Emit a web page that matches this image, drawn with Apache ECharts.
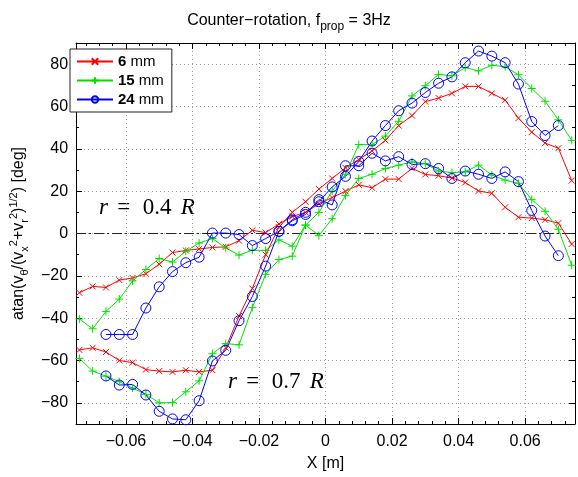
<!DOCTYPE html>
<html>
<head>
<meta charset="utf-8">
<script src="https://cdn.jsdelivr.net/npm/echarts@6/dist/echarts.min.js"></script>
<style>
  html, body { margin: 0; padding: 0; background: #fff; }
  #main { width: 578px; height: 477px; }
</style>
</head>
<body>
<div id="main"></div>
<script>
// x positions of the measurement stations [m]
var xPos = [-0.074, -0.070, -0.066, -0.062, -0.058, -0.054, -0.050, -0.046, -0.042, -0.038,
            -0.034, -0.030, -0.026, -0.022, -0.018, -0.014, -0.010, -0.006, -0.002, 0.002,
             0.006,  0.010,  0.014,  0.018,  0.022,  0.026,  0.030,  0.034,  0.038, 0.042,
             0.046,  0.050,  0.054,  0.058,  0.062,  0.066,  0.070,  0.074];

// r = 0.4 R
var red04 = [-28, -25, -25.5, -22, -21, -19, -14.5, -9, -8, -7.3,
             -6.6, -6.3, -3.4, 1.5, 0.4, 4.5, 8, 10, 14, 17,
             20, 23, 21.6, 25.7, 25.7, 30.8, 27.9, 27.3, 26.2, 24.1,
             20.1, 19, 12.4, 7.7, 7.3, 6.5, 4.9, -5];
var green04 = [-40.4, -45, -36.8, -31, -22.4, -17, -11.8, -13.5, -8.4, -4.5,
               -2.4, -6.8, -10.2, -7.9, -8, -3, -6, 4, -1, 7,
               18, 26, 28, 30.7, 32.3, 33.8, 33, 29.5, 28.8, 29.1,
               32.3, 27.6, 25.2, 23.7, 16, 10.5, 2, -15];
var blue04 = [null, null, -47.7, -47.7, -47.7, -35.2, -25.2, -18, -13.8, -11.2,
              0.2, 0.2, -0.5, -5.7, -2.4, 1, 6, 9, 16, 13.5,
              32, 32, 37.9, 34.3, 36.3, 32.6, 33, 30.7, 26, 29.5,
              28, 26, 29.1, 24.5, 10.9, -1.2, -10.5, null];

// r = 0.7 R
var red07 = [-55, -54, -56, -60, -61, -64.3, -65, -65.4, -64.6, -65.4,
             -64.6, -54, -39, -26, -10, 3, 10, 15, 21, 26,
             31, 35, 39, 44, 51, 55.7, 62.3, 64, 66.2, 69.5,
             69.5, 66.2, 63, 54.5, 47.9, 42.7, 40.3, 25];
var green07 = [-59, -65, -67.4, -70, -73, -76, -80, -79.9, -74.8, -69.6,
               -56.8, -52, -52.6, -35, -19.3, -12.3, -10.7, 4, 10, 20,
               28, 42, 42, 46, 53, 65, 69.8, 75.2, 74.5, 78.4,
               76.8, 79.5, 78.8, 75, 68.5, 62.5, 53.7, 44];
var blue07 = [null, null, -67.3, -71.6, -71.3, -76.3, -84, -87.6, -88, -79,
              -60.2, -55.2, -41.2, -29.8, -15.4, 1, 6.5, 10, 15, 22,
              27, 34, 43.7, 51, 58, 61.6, 66.6, 71, 74, 80.7,
              86.2, 83.8, 80.7, 70.6, 52.9, 46.3, 51, null];

var seriesNames = ['6 mm', '15 mm', '24 mm'];
var seriesColors = ['#ff0000', '#00e000', '#0000ff'];

function pairs(vals) {
  var out = [];
  for (var i = 0; i < xPos.length; i++) {
    if (vals[i] !== null) out.push([xPos[i], vals[i]]);
  }
  return out;
}

var crossSym = 'path://M0,0L10,10M10,0L0,10';
var plusSym = 'path://M5,0L5,10M0,5L10,5';

function mkSeries(name, color, vals, sym, size) {
  var isCircle = sym === 'circle';
  return {
    name: name,
    type: 'line',
    data: pairs(vals),
    symbol: sym,
    symbolSize: size,
    showAllSymbol: true,
    lineStyle: { color: color, width: 1 },
    itemStyle: {
      color: isCircle ? 'rgba(0,0,0,0)' : color,
      borderColor: color,
      borderWidth: 1
    },
    emphasis: { disabled: true },
    animation: false,
    z: 3
  };
}

var myChart = echarts.init(document.getElementById('main'), null, { renderer: 'canvas' });

var axisFont = { fontFamily: 'Liberation Sans, Arial, sans-serif', fontSize: 16, color: '#000' };

var series = [
  mkSeries(seriesNames[0], seriesColors[0], red04, crossSym, 6),
  mkSeries(seriesNames[1], seriesColors[1], green04, plusSym, 8),
  mkSeries(seriesNames[2], seriesColors[2], blue04, 'circle', 10),
  mkSeries(seriesNames[0], seriesColors[0], red07, crossSym, 6),
  mkSeries(seriesNames[1], seriesColors[1], green07, plusSym, 8),
  mkSeries(seriesNames[2], seriesColors[2], blue07, 'circle', 10)
];

// dash-dot zero line
series[0].markLine = {
  silent: true,
  symbol: 'none',
  label: { show: false },
  lineStyle: { color: '#222', type: [10, 3, 2, 3], width: 1 },
  data: [{ yAxis: 0 }],
  z: 1
};

myChart.setOption({
  animation: false,
  title: {
    text: 'Counter\u2212rotation, f{s|prop} = 3Hz',
    left: 'center',
    top: 4,
    textStyle: {
      fontFamily: 'Liberation Sans, Arial, sans-serif',
      fontSize: 16,
      fontWeight: 'normal',
      color: '#000',
      rich: {
        s: { fontSize: 12, fontFamily: 'Liberation Sans, Arial, sans-serif', verticalAlign: 'bottom', lineHeight: 24, padding: [8, 0, 0, 0] }
      }
    }
  },
  legend: {
    orient: 'vertical',
    left: 70,
    top: 49,
    data: seriesNames,
    backgroundColor: '#fff',
    borderColor: '#222',
    borderWidth: 1,
    borderRadius: 0,
    padding: [5, 8, 5, 6],
    itemWidth: 36,
    itemHeight: 8,
    itemGap: 4,
    textStyle: {
      fontFamily: 'Liberation Sans, Arial, sans-serif',
      fontSize: 15,
      color: '#000',
      rich: {
        b: { fontWeight: 'bold', fontSize: 15, fontFamily: 'Liberation Sans, Arial, sans-serif' },
        n: { fontSize: 15, fontFamily: 'Liberation Sans, Arial, sans-serif' }
      }
    },
    formatter: function (name) {
      var p = name.split(' ');
      return '{b|' + p[0] + '}{n| ' + p[1] + '}';
    }
  },
  grid: { left: 63, right: 3, top: 43, bottom: 50, containLabel: false },
  xAxis: [
    {
      type: 'value',
      min: -0.075,
      max: 0.075,
      splitNumber: 7,
      name: 'X [m]',
      nameLocation: 'middle',
      nameGap: 32,
      nameTextStyle: axisFont,
      axisLine: { show: true, onZero: false, lineStyle: { color: '#000', width: 1 } },
      axisTick: { show: true, inside: true, length: 6, lineStyle: { color: '#000' } },
      minorTick: { show: true, splitNumber: 5, length: 3, lineStyle: { color: '#000' } },
      axisLabel: {
        showMinLabel: false,
        showMaxLabel: false,
        margin: 10,
        fontFamily: axisFont.fontFamily,
        fontSize: 16,
        color: '#000',
        formatter: function (v) {
          if (Math.abs(v) < 1e-9) return '0';
          return (v < 0 ? '\u2212' : '') + Math.abs(v).toFixed(2);
        }
      },
      splitLine: { show: true, lineStyle: { color: '#9a9a9a', type: [1, 3], width: 1 } }
    },
    {
      type: 'value',
      position: 'top',
      min: -0.075,
      max: 0.075,
      splitNumber: 7,
      axisLine: { show: true, onZero: false, lineStyle: { color: '#000', width: 1 } },
      axisTick: { show: true, inside: true, length: 6, lineStyle: { color: '#000' } },
      minorTick: { show: true, splitNumber: 5, length: 3, lineStyle: { color: '#000' } },
      axisLabel: { show: false },
      splitLine: { show: false }
    }
  ],
  yAxis: [
    {
      type: 'value',
      min: -90,
      max: 90,
      splitNumber: 9,
      name: 'atan(v{s|\u03b8}/(v{s|x}{p|2}+v{s|r}{p|2}){p|1/2}) [deg]',
      nameLocation: 'middle',
      nameGap: 38,
      nameRotate: 90,
      nameTextStyle: {
        fontFamily: axisFont.fontFamily,
        fontSize: 16,
        color: '#000',
        rich: {
          s: { fontSize: 11, fontFamily: axisFont.fontFamily, verticalAlign: 'bottom', lineHeight: 22, padding: [7, 0, 0, 0] },
          p: { fontSize: 11, fontFamily: axisFont.fontFamily, verticalAlign: 'top', lineHeight: 22, padding: [0, 0, 8, 0] }
        }
      },
      axisLine: { show: true, onZero: false, lineStyle: { color: '#000', width: 1 } },
      axisTick: { show: true, inside: true, length: 6, lineStyle: { color: '#000' } },
      minorTick: { show: true, splitNumber: 2, length: 3, lineStyle: { color: '#000' } },
      axisLabel: {
        showMinLabel: false,
        showMaxLabel: false,
        margin: 8,
        fontFamily: axisFont.fontFamily,
        fontSize: 16,
        color: '#000',
        formatter: function (v) {
          return (v < 0 ? '\u2212' : '') + Math.abs(v);
        }
      },
      splitLine: { show: true, lineStyle: { color: '#9a9a9a', type: [1, 3], width: 1 } }
    },
    {
      type: 'value',
      position: 'right',
      min: -90,
      max: 90,
      splitNumber: 9,
      axisLine: { show: true, onZero: false, lineStyle: { color: '#000', width: 1 } },
      axisTick: { show: true, inside: true, length: 6, lineStyle: { color: '#000' } },
      minorTick: { show: true, splitNumber: 2, length: 3, lineStyle: { color: '#000' } },
      axisLabel: { show: false },
      splitLine: { show: false }
    }
  ],
  graphic: [
    {
      type: 'text',
      left: 99,
      top: 196,
      style: {
        text: '{i|r} {n|=} {n|0.4} {i|R}',
        fontSize: 23,
        fill: '#000',
        rich: {
          i: { fontFamily: 'Liberation Serif, DejaVu Serif, serif', fontStyle: 'italic', fontSize: 23 },
          n: { fontFamily: 'Liberation Serif, DejaVu Serif, serif', fontSize: 23, padding: [0, 3, 0, 3] }
        }
      }
    },
    {
      type: 'text',
      left: 228,
      top: 370,
      style: {
        text: '{i|r} {n|=} {n|0.7} {i|R}',
        fontSize: 23,
        fill: '#000',
        rich: {
          i: { fontFamily: 'Liberation Serif, DejaVu Serif, serif', fontStyle: 'italic', fontSize: 23 },
          n: { fontFamily: 'Liberation Serif, DejaVu Serif, serif', fontSize: 23, padding: [0, 3, 0, 3] }
        }
      }
    }
  ],
  series: series
});
</script>
</body>
</html>
